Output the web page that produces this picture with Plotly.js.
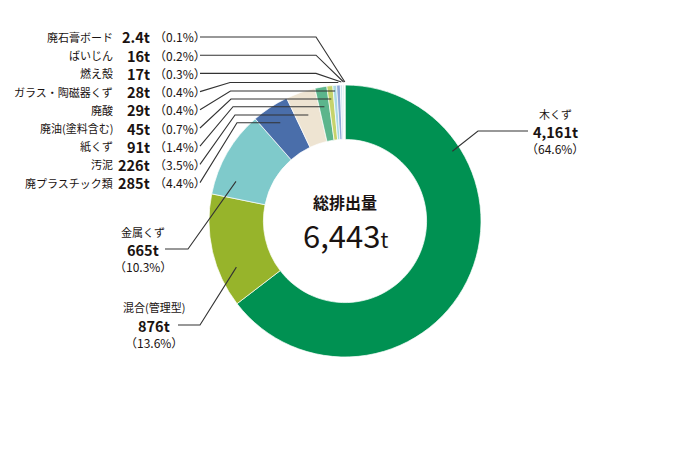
<!DOCTYPE html>
<html>
<head>
<meta charset="utf-8">
<script src="https://cdn.plot.ly/plotly-3.0.1.min.js"></script>
<style>html,body{margin:0;padding:0;background:#fff;}#chart{width:690px;height:450px;}</style>
</head>
<body>
<div id="chart"></div>
<script>
// ---- data ----
const categories = ['木くず','混合(管理型)','金属くず','廃プラスチック類','汚泥','紙くず','廃油(塗料含む)','廃酸','ガラス・陶磁器くず','燃え殻','ばいじん','廃石膏ボード'];
const tonnes = [4161, 876, 665, 285, 226, 91, 45, 29, 28, 17, 16, 2.4];
const percentLabels = ['64.6%','13.6%','10.3%','4.4%','3.5%','1.4%','0.7%','0.4%','0.4%','0.3%','0.2%','0.1%'];
const totalTonnes = 6443;
const totalTitle = '総排出量';
const colors = ['#009152','#97b42b','#7fcacb','#4a6eaa','#eee4d2','#5cb58c','#c6d36b','#a9d9e3','#8fa8d8','#cfe5ee','#e4f1ef','#f4f8f6'];

// ---- geometry ----
const W = 690, H = 450;
const CX = 345, CY = 221, R = 136;
const FONT = '"Noto Sans CJK JP", "Noto Sans", sans-serif';
const INK = '#1a1311';
const px = x => x / W;
const py = y => 1 - y / H;

const fmt = v => v.toLocaleString('en-US') + 't';
const pctText = p => '（' + p + '）';

// mid-angle of each slice (clockwise from 12 o'clock)
const sum = tonnes.reduce((a, b) => a + b, 0);
let acc = 0;
const midAngle = tonnes.map(v => { const m = (acc + v / 2) / sum * 2 * Math.PI; acc += v; return m; });
const xOnRay = (i, y) => CX + (CY - y) * Math.tan(midAngle[i]);
const polar = (deg, r) => [CX + r * Math.sin(deg * Math.PI / 180), CY - r * Math.cos(deg * Math.PI / 180)];

const annotations = [];
const shapes = [];
function txt(x, y, text, size, anchor, bold, boxH) {
  const a = {xref:'paper', yref:'paper', x:px(x), y:py(y), text: bold ? '<b>' + text + '</b>' : text,
    showarrow:false, xanchor:anchor, yanchor:'middle', borderpad:0, borderwidth:0,
    font:{family:FONT, size:size, color:INK}};
  if (boxH) a.height = boxH;
  annotations.push(a);
}
function path(pts) {
  const d = pts.map((p, k) => (k ? 'L' : 'M') + px(p[0]).toFixed(5) + ',' + py(p[1]).toFixed(5)).join(' ');
  shapes.push({type:'path', xref:'paper', yref:'paper', path:d, line:{color:'#333333', width:1.1}});
}

// small categories listed at top-left (from the last slice back to index 3)
const listOrder = [11, 10, 9, 8, 7, 6, 5, 4, 3];
const horizY = {8:82.5, 7:91, 6:99, 5:106.7, 4:115, 3:122.7};
const elbowX = {8:230, 7:230.5, 6:231, 5:233, 4:235, 3:237};
listOrder.forEach((i, row) => {
  const y = 37 + row * 18.2;
  txt(113, y, categories[i], 11, 'right', false, 16);
  txt(150, y, fmt(tonnes[i]), 14.5, 'right', true, 17);
  txt(154, y, pctText(percentLabels[i]), 12, 'left', false, 17);
  if (i >= 9) {
    const ye = 82;
    path([[200, y], [316, y], [xOnRay(i, ye), ye]]);
  } else {
    const yh = horizY[i];
    path([[200, y], [elbowX[i], yh], [xOnRay(i, yh), yh]]);
  }
});

// 金属くず
txt(143, 232, categories[2], 11, 'center', false);
txt(143, 249, fmt(tonnes[2]), 14.5, 'center', true);
txt(143, 266, pctText(percentLabels[2]), 12, 'center', false);
path([[165, 249], [188, 249], polar(290, 116)]);

// 混合(管理型)
txt(154, 307, categories[1], 11, 'center', false);
txt(154, 325, fmt(tonnes[1]), 14.5, 'center', true);
txt(154, 342, pctText(percentLabels[1]), 12, 'center', false);
path([[178, 325], [200, 325], polar(247, 118)]);

// 木くず
txt(555, 114, categories[0], 11, 'center', false);
txt(555, 131.5, fmt(tonnes[0]), 14.5, 'center', true);
txt(555, 148.5, pctText(percentLabels[0]), 12, 'center', false);
path([[528, 131], [478, 131], polar(57, 128)]);

// centre
txt(CX, 202, totalTitle, 16, 'center', true);
annotations.push({xref:'paper', yref:'paper', x:px(CX), y:py(234), showarrow:false, xanchor:'center', yanchor:'middle',
  text: totalTonnes.toLocaleString('en-US') + '<span style="font-size:21px">t</span>',
  font:{family:FONT, size:31, color:INK}});

const trace = {
  type:'pie', labels:categories, values:tonnes, sort:false, direction:'clockwise', rotation:0,
  hole:0.6, textinfo:'none', hoverinfo:'none',
  marker:{colors:colors, line:{color:'#ffffff', width:0.7}},
  domain:{x:[(CX - R) / W, (CX + R) / W], y:[1 - (CY + R) / H, 1 - (CY - R) / H]}
};

Plotly.newPlot('chart', [trace], {
  width:W, height:H, margin:{l:0, r:0, t:0, b:0}, showlegend:false,
  paper_bgcolor:'#ffffff', plot_bgcolor:'#ffffff',
  annotations:annotations, shapes:shapes
}, {staticPlot:true});
</script>
</body>
</html>
